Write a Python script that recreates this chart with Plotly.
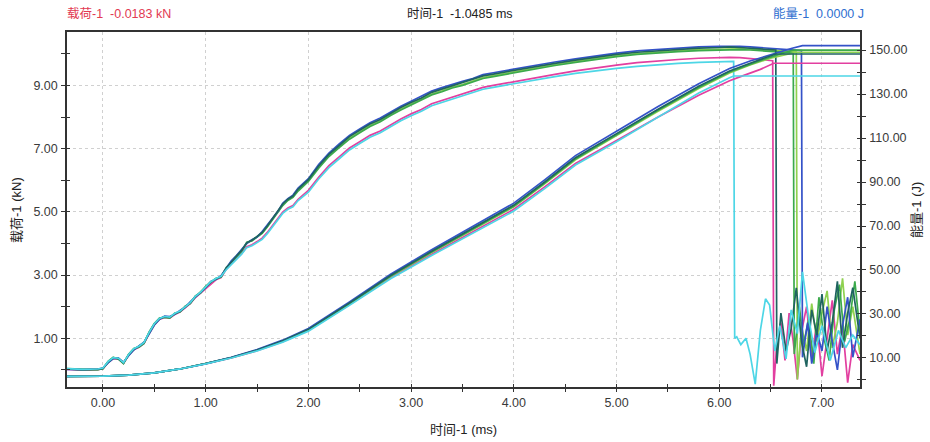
import plotly.graph_objects as go

# ---------------- data ----------------
t_pre = [-0.35, -0.2, -0.05, 0.0, 0.05, 0.1, 0.15, 0.2, 0.25, 0.3, 0.35, 0.4, 0.45, 0.5, 0.55, 0.6, 0.65,
         0.7, 0.75, 0.8, 0.85, 0.9, 0.95, 1.0, 1.05, 1.1, 1.15, 1.2, 1.25, 1.3, 1.35, 1.4, 1.45, 1.5, 1.55,
         1.6, 1.65, 1.7, 1.75, 1.8, 1.85, 1.9, 1.95, 2.0, 2.1, 2.2, 2.3, 2.4, 2.5, 2.6, 2.7, 2.8, 2.9, 3.0,
         3.1, 3.2, 3.3, 3.4, 3.5, 3.6, 3.7, 3.8, 3.9, 4.0, 4.2, 4.4, 4.6, 4.8, 5.0, 5.2, 5.4, 5.6, 5.8, 6.0]

load_teal = [0.03, 0.0, 0.02, 0.05, 0.25, 0.38, 0.36, 0.22, 0.48, 0.66, 0.74, 0.86, 1.18, 1.45, 1.62, 1.68, 1.66,
             1.78, 1.85, 2.0, 2.12, 2.32, 2.45, 2.62, 2.78, 2.88, 2.95, 3.22, 3.42, 3.6, 3.78, 4.02, 4.1, 4.22, 4.35,
             4.55, 4.78, 5.02, 5.25, 5.4, 5.5, 5.72, 5.88, 6.02, 6.45, 6.82, 7.1, 7.38, 7.58, 7.78, 7.92, 8.12, 8.3, 8.46,
             8.6, 8.78, 8.88, 9.0, 9.08, 9.18, 9.3, 9.36, 9.42, 9.48, 9.6, 9.7, 9.8, 9.9, 9.98, 10.05, 10.1, 10.14, 10.18, 10.2]
load_blue = [0.02, 0.01, 0.03, 0.06, 0.22, 0.36, 0.38, 0.24, 0.45, 0.63, 0.76, 0.88, 1.14, 1.42, 1.6, 1.7, 1.69,
             1.76, 1.88, 1.98, 2.15, 2.3, 2.48, 2.6, 2.8, 2.86, 2.98, 3.2, 3.45, 3.62, 3.8, 4.0, 4.12, 4.2, 4.38,
             4.58, 4.8, 5.0, 5.27, 5.42, 5.53, 5.75, 5.9, 6.05, 6.5, 6.86, 7.15, 7.42, 7.62, 7.82, 7.97, 8.16, 8.34, 8.5,
             8.65, 8.82, 8.93, 9.04, 9.13, 9.22, 9.34, 9.4, 9.46, 9.52, 9.64, 9.74, 9.84, 9.94, 10.02, 10.09, 10.14, 10.18, 10.22, 10.24]
load_green = [0.04, 0.02, 0.01, 0.04, 0.27, 0.4, 0.34, 0.2, 0.5, 0.68, 0.72, 0.84, 1.2, 1.47, 1.64, 1.66, 1.64,
              1.8, 1.83, 2.02, 2.1, 2.34, 2.43, 2.64, 2.76, 2.9, 2.93, 3.24, 3.4, 3.58, 3.75, 4.04, 4.08, 4.2, 4.32,
              4.52, 4.75, 4.98, 5.2, 5.36, 5.46, 5.66, 5.82, 5.96, 6.38, 6.75, 7.03, 7.3, 7.5, 7.7, 7.85, 8.05, 8.22, 8.38,
              8.53, 8.7, 8.8, 8.92, 9.0, 9.1, 9.22, 9.28, 9.34, 9.4, 9.53, 9.63, 9.73, 9.83, 9.91, 9.98, 10.03, 10.07, 10.1, 10.12]
load_lime = [0.03, 0.01, 0.02, 0.05, 0.24, 0.37, 0.37, 0.23, 0.47, 0.65, 0.75, 0.87, 1.16, 1.44, 1.63, 1.69, 1.67,
             1.77, 1.86, 1.99, 2.13, 2.31, 2.46, 2.61, 2.79, 2.87, 2.96, 3.21, 3.43, 3.61, 3.77, 4.01, 4.11, 4.21, 4.34,
             4.54, 4.77, 5.0, 5.22, 5.38, 5.48, 5.69, 5.85, 5.99, 6.41, 6.78, 7.06, 7.33, 7.53, 7.73, 7.88, 8.08, 8.25, 8.41,
             8.56, 8.73, 8.83, 8.95, 9.03, 9.13, 9.25, 9.31, 9.37, 9.43, 9.56, 9.66, 9.76, 9.86, 9.94, 10.01, 10.06, 10.1, 10.13, 10.15]
load_magenta = [0.02, 0.0, 0.01, 0.04, 0.23, 0.36, 0.35, 0.21, 0.46, 0.64, 0.72, 0.84, 1.15, 1.42, 1.6, 1.66, 1.64,
                1.75, 1.83, 1.97, 2.1, 2.29, 2.43, 2.58, 2.74, 2.85, 2.92, 3.18, 3.36, 3.52, 3.68, 3.9, 3.96, 4.06, 4.17,
                4.35, 4.56, 4.78, 4.99, 5.12, 5.2, 5.4, 5.55, 5.68, 6.09, 6.46, 6.74, 7.02, 7.22, 7.42, 7.56, 7.76, 7.94, 8.1,
                8.24, 8.42, 8.52, 8.64, 8.72, 8.82, 8.94, 9.0, 9.06, 9.12, 9.25, 9.35, 9.46, 9.56, 9.64, 9.72, 9.78, 9.82, 9.86, 9.89]
load_cyan = [0.04, 0.02, 0.03, 0.06, 0.26, 0.39, 0.37, 0.23, 0.49, 0.67, 0.75, 0.87, 1.19, 1.46, 1.63, 1.69, 1.67,
             1.79, 1.86, 2.01, 2.13, 2.33, 2.46, 2.63, 2.79, 2.89, 2.96, 3.17, 3.35, 3.5, 3.66, 3.87, 3.93, 4.03, 4.13,
             4.31, 4.52, 4.74, 4.95, 5.08, 5.16, 5.36, 5.5, 5.62, 6.04, 6.4, 6.68, 6.96, 7.16, 7.36, 7.5, 7.7, 7.88, 8.04,
             8.18, 8.36, 8.46, 8.58, 8.66, 8.76, 8.88, 8.94, 9.0, 9.06, 9.18, 9.28, 9.38, 9.47, 9.54, 9.6, 9.66, 9.7, 9.73, 9.75]

# load after 6.0 ms: peak, fracture drop and ringing
t_tail_teal = [6.1, 6.2, 6.3, 6.4, 6.5, 6.55, 6.56, 6.6, 6.65, 6.7, 6.75, 6.8, 6.85, 6.9, 6.95, 7.0, 7.05, 7.1, 7.15, 7.2, 7.25, 7.3, 7.37]
load_tail_teal = [10.22, 10.2, 10.18, 10.16, 10.13, 10.12, 0.2, 1.8, 0.6, 1.3, 2.6, 0.9, 0.1, 1.9, 1.1, 2.4, 0.6, 1.5, 2.8, 0.7, 1.8, 2.6, 1.0]
t_tail_blue = [6.1, 6.2, 6.3, 6.4, 6.5, 6.6, 6.7, 6.8, 6.81, 6.86, 6.9, 6.95, 7.0, 7.05, 7.1, 7.15, 7.2, 7.25, 7.3, 7.37]
load_tail_blue = [10.25, 10.24, 10.22, 10.2, 10.18, 10.16, 10.13, 10.1, 0.4, 1.5, 0.2, 1.2, 0.6, 2.0, 0.9, 0.0, 1.4, 2.3, 0.4, 1.6]
t_tail_green = [6.1, 6.2, 6.3, 6.4, 6.5, 6.6, 6.72, 6.73, 6.78, 6.82, 6.87, 6.92, 6.97, 7.02, 7.07, 7.12, 7.17, 7.22, 7.27, 7.32, 7.37]
load_tail_green = [10.13, 10.13, 10.12, 10.1, 10.08, 10.06, 10.03, 0.5, 2.0, 0.8, 1.6, 0.2, 2.3, 1.0, 0.3, 1.9, 2.7, 0.9, 1.6, 2.8, 1.2]
t_tail_lime = [6.1, 6.2, 6.3, 6.4, 6.5, 6.6, 6.7, 6.75, 6.76, 6.8, 6.85, 6.9, 6.95, 7.0, 7.05, 7.1, 7.15, 7.2, 7.25, 7.3, 7.37]
load_tail_lime = [10.16, 10.16, 10.15, 10.14, 10.12, 10.1, 10.08, 10.06, -0.3, 1.4, 0.6, 2.1, 0.9, 1.8, 2.5, 0.7, 1.5, 2.9, 1.1, 2.0, 0.5]
t_tail_magenta = [6.1, 6.2, 6.3, 6.4, 6.52, 6.53, 6.56, 6.6, 6.64, 6.68, 6.72, 6.76, 6.8, 6.85, 6.9, 6.95, 7.0, 7.05, 7.1, 7.15, 7.2, 7.25, 7.3, 7.37]
load_tail_magenta = [9.89, 9.88, 9.85, 9.82, 9.78, -0.5, 0.8, 1.5, 0.3, 1.8, 0.9, -0.3, 1.2, 2.0, 0.4, 1.5, -0.2, 1.0, 2.2, 0.5, 1.4, -0.4, 0.8, 0.3]
t_tail_cyan = [6.1, 6.14, 6.15, 6.17, 6.21, 6.26, 6.3, 6.35, 6.4, 6.45, 6.49, 6.54, 6.59, 6.65, 6.7, 6.76, 6.81, 6.87, 6.93, 7.0, 7.08, 7.16, 7.23, 7.3, 7.37]
load_tail_cyan = [9.76, 9.76, 1.0, 1.05, 0.8, 1.0, 0.5, -0.45, 1.25, 2.25, 2.05, 0.6, 1.4, 0.35, 1.9, 1.15, 3.1, 1.65, 0.55, 1.4, 0.3, 1.25, 0.7, 1.1, 0.8]

# energy (J)
t_energy = [-0.35, 0.0, 0.25, 0.5, 0.75, 1.0, 1.25, 1.5, 1.75, 2.0, 2.4, 2.8, 3.2, 3.6, 4.0, 4.3, 4.6, 5.0, 5.4, 5.8, 6.1]
energy_teal = [1.6, 1.7, 2.2, 3.2, 5.0, 7.4, 10.2, 13.6, 17.8, 23.0, 35.0, 47.5, 58.5, 69.0, 79.5, 90.0, 101.0, 112.0, 123.0, 133.5, 140.5]
energy_blue = [1.6, 1.7, 2.2, 3.2, 5.0, 7.4, 10.3, 13.8, 18.1, 23.4, 35.5, 48.1, 59.2, 69.8, 80.4, 91.0, 102.0, 113.1, 124.2, 134.7, 141.6]
energy_green = [1.6, 1.7, 2.2, 3.2, 5.0, 7.4, 10.2, 13.5, 17.7, 22.8, 34.8, 47.2, 58.2, 68.6, 79.0, 89.5, 100.5, 111.5, 122.5, 133.0, 140.0]
energy_lime = [1.6, 1.7, 2.2, 3.2, 5.0, 7.4, 10.1, 13.5, 17.6, 22.7, 34.6, 47.0, 57.9, 68.3, 78.7, 89.2, 100.1, 111.1, 122.0, 132.5, 139.6]
energy_magenta = [1.6, 1.7, 2.2, 3.2, 5.0, 7.3, 10.0, 13.3, 17.4, 22.5, 34.3, 46.5, 57.2, 67.4, 77.6, 87.8, 98.4, 108.9, 119.4, 129.4, 136.0]
energy_cyan = [1.6, 1.7, 2.2, 3.2, 5.0, 7.3, 10.0, 13.2, 17.2, 22.2, 33.9, 46.0, 56.6, 66.7, 76.8, 87.0, 97.7, 108.3, 119.5, 130.5, 137.4]

t_etail_teal, energy_tail_teal = [6.3, 6.55, 7.37], [144.0, 148.2, 148.2]
t_etail_blue, energy_tail_blue = [6.3, 6.5, 6.7, 6.81, 7.37], [145.0, 148.0, 150.7, 152.0, 152.0]
t_etail_green, energy_tail_green = [6.3, 6.5, 6.72, 7.37], [143.5, 146.8, 150.0, 150.0]
t_etail_lime, energy_tail_lime = [6.3, 6.5, 6.75, 7.37], [143.2, 146.3, 149.0, 149.0]
t_etail_magenta, energy_tail_magenta = [6.2, 6.4, 6.53, 7.37], [137.8, 141.2, 144.0, 144.0]
t_etail_cyan, energy_tail_cyan = [6.14, 7.37], [138.2, 138.2]

x_ticks = [0, 1, 2, 3, 4, 5, 6, 7]
x_minor = [0.5, 1.5, 2.5, 3.5, 4.5, 5.5, 6.5]
load_ticks = [1, 3, 5, 7, 9]
load_minor = [0, 2, 4, 6, 8, 10]
energy_ticks = [10, 30, 50, 70, 90, 110, 130, 150]
energy_minor = [0, 20, 40, 60, 80, 100, 120, 140]

# ---------------- figure ----------------
series = [
    ("magenta", "#e23fa0", load_magenta, t_tail_magenta, load_tail_magenta, energy_magenta, t_etail_magenta, energy_tail_magenta),
    ("lime", "#8fd14f", load_lime, t_tail_lime, load_tail_lime, energy_lime, t_etail_lime, energy_tail_lime),
    ("green", "#3caa4c", load_green, t_tail_green, load_tail_green, energy_green, t_etail_green, energy_tail_green),
    ("blue", "#3452c8", load_blue, t_tail_blue, load_tail_blue, energy_blue, t_etail_blue, energy_tail_blue),
    ("teal", "#1f6460", load_teal, t_tail_teal, load_tail_teal, energy_teal, t_etail_teal, energy_tail_teal),
    ("cyan", "#4dd6e6", load_cyan, t_tail_cyan, load_tail_cyan, energy_cyan, t_etail_cyan, energy_tail_cyan),
]

fig = go.Figure()
for name, color, lp, tt, lt, ep, te, et in series:
    fig.add_trace(go.Scatter(x=t_pre + tt, y=lp + lt, mode="lines", name=name,
                             line=dict(color=color, width=1.7), yaxis="y", showlegend=False))
    fig.add_trace(go.Scatter(x=t_energy + te, y=ep + et, mode="lines", name=name,
                             line=dict(color=color, width=1.7), yaxis="y2", showlegend=False))

# invisible traces carrying the inner tick axes
fig.add_trace(go.Scatter(x=[None], y=[None], xaxis="x2", yaxis="y3", showlegend=False, hoverinfo="skip"))
fig.add_trace(go.Scatter(x=[None], y=[None], xaxis="x2", yaxis="y4", showlegend=False, hoverinfo="skip"))

FAM = "Liberation Sans, Noto Sans CJK SC, sans-serif"
tick_font = dict(family=FAM, size=12.5, color="#3a3a3a")
axis_col = "#333333"
grid_col = "#d0d0d0"
xr = [-0.35, 7.37]
yr = [-0.54, 10.69]
y2r = [-3.2, 158.2]

fig.update_layout(
    width=930, height=442,
    margin=dict(l=67, r=70, t=32, b=55),
    paper_bgcolor="white", plot_bgcolor="white",
    font=dict(family=FAM),
    xaxis=dict(range=xr, tickmode="array", tickvals=x_ticks, ticktext=[f"{v:.2f}" for v in x_ticks],
               ticks="outside", ticklen=3, tickcolor=axis_col, tickwidth=1,
               minor=dict(tickmode="array", tickvals=x_minor, ticks="outside", ticklen=3,
                          tickcolor=axis_col, showgrid=False),
               showline=True, linecolor=axis_col, linewidth=1.5, mirror=True,
               showgrid=True, gridcolor=grid_col, griddash="dot", gridwidth=1,
               tickfont=tick_font, zeroline=False, ticklabelstandoff=0),
    xaxis2=dict(range=xr, overlaying="x", anchor="y3", side="bottom", tickmode="array",
                tickvals=sorted(x_ticks + x_minor),
                ticks="inside", ticklen=3, tickcolor=axis_col, showticklabels=False,
                showline=False, showgrid=False, zeroline=False),
    yaxis=dict(range=yr, tickmode="array", tickvals=load_ticks, ticktext=[f"{v:.2f}" for v in load_ticks],
               ticks="outside", ticklen=4, tickcolor=axis_col,
               minor=dict(tickmode="array", tickvals=load_minor, ticks="outside", ticklen=4,
                          tickcolor=axis_col, showgrid=False),
               showline=True, linecolor=axis_col, linewidth=1.5,
               showgrid=True, gridcolor=grid_col, griddash="dot", gridwidth=1,
               tickfont=tick_font, zeroline=False, ticklabelstandoff=1),
    yaxis2=dict(range=y2r, overlaying="y", side="right", tickmode="array", tickvals=energy_ticks,
                ticktext=[f"{v:.2f}" for v in energy_ticks],
                ticks="outside", ticklen=4, tickcolor=axis_col,
                minor=dict(tickmode="array", tickvals=energy_minor, ticks="outside",
                           ticklen=4, tickcolor=axis_col, showgrid=False),
                showline=True, linecolor=axis_col, linewidth=1.5, showgrid=False,
                tickfont=tick_font, zeroline=False, ticklabelstandoff=1),
    yaxis3=dict(range=yr, overlaying="y", side="left", tickmode="array", tickvals=sorted(load_ticks + load_minor),
                ticks="inside", ticklen=3, tickcolor=axis_col, showticklabels=False,
                showline=False, showgrid=False, zeroline=False),
    yaxis4=dict(range=y2r, overlaying="y", side="right", tickmode="array", tickvals=sorted(energy_ticks + energy_minor),
                ticks="inside", ticklen=3, tickcolor=axis_col, showticklabels=False,
                showline=False, showgrid=False, zeroline=False),
)

annotations = [
    ("载荷-1  -0.0183 kN", 65, 14, "left", 0, 12.5, "#e23a52"),
    ("时间-1  -1.0485 ms", 460, 14, "center", 0, 12.5, "#222222"),
    ("能量-1  0.0000 J", 866, 14, "right", 0, 12.5, "#2f6fd0"),
    ("时间-1 (ms)", 463, 429, "center", 0, 13, "#222222"),
    ("载荷-1 (kN)", 16, 210, "center", -90, 13, "#222222"),
    ("能量-1 (J)", 916, 210, "center", -90, 13, "#222222"),
]
for text, px, py, xa, ang, size, col in annotations:
    fig.add_annotation(text=text, xref="paper", yref="paper",
                       x=(px - 67) / 793, y=1 - (py - 32) / 355,
                       xanchor=xa, yanchor="middle", showarrow=False, textangle=ang,
                       font=dict(family=FAM, size=size, color=col))

fig.write_html("out.html", config={"displayModeBar": False},
               post_script="document.body.style.margin='0';document.body.style.overflow='hidden';")
